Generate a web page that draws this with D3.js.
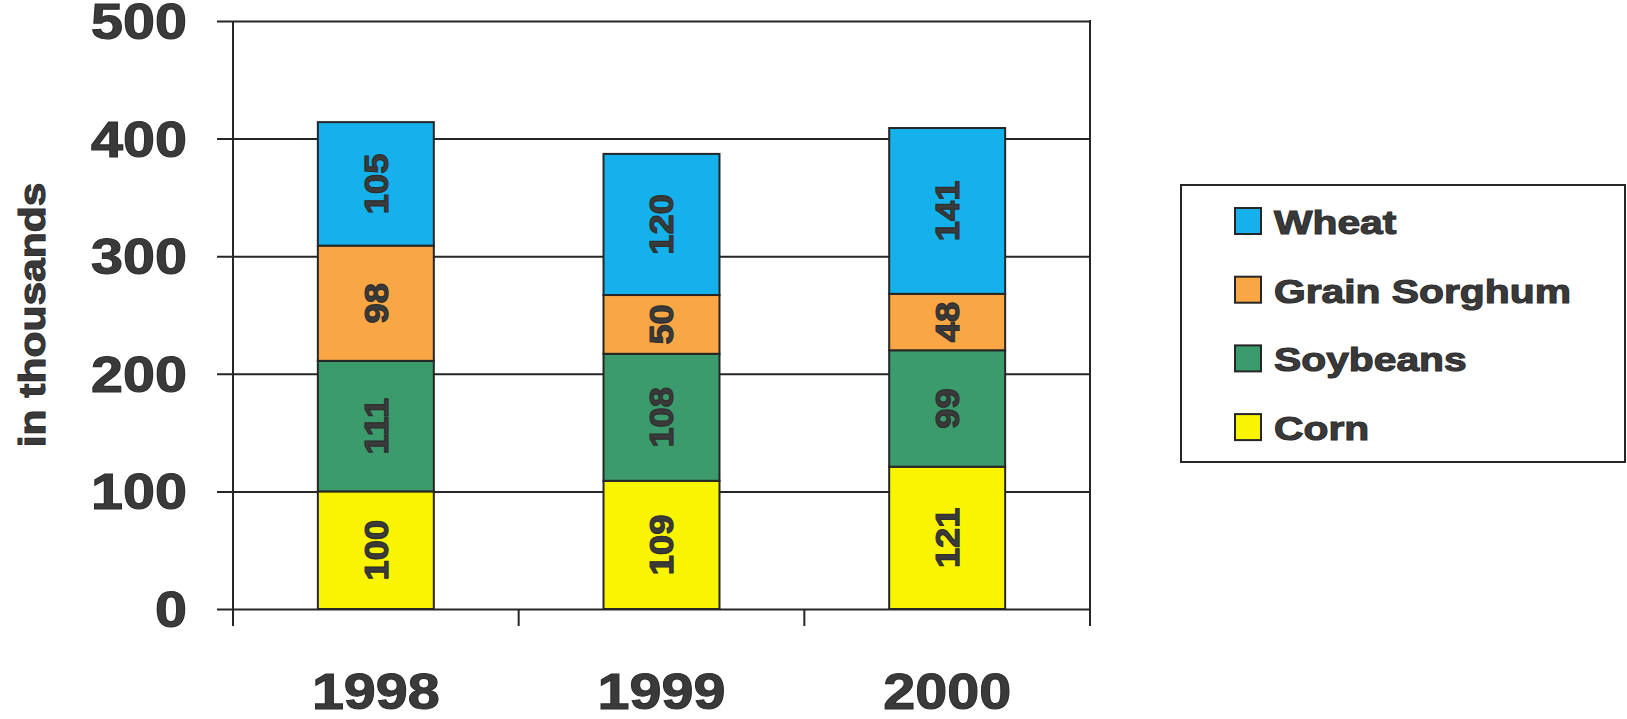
<!DOCTYPE html>
<html>
<head>
<meta charset="utf-8">
<script src="https://cdn.jsdelivr.net/npm/d3@7"></script>
<style>
  html, body { margin: 0; padding: 0; background: #ffffff; }
  svg { display: block; }
  text { font-family: "Liberation Sans", Arial, sans-serif; font-weight: bold; fill: #3a3a3a; stroke: #2e2e2e; stroke-width: 1.1px; }
</style>
</head>
<body>
<svg id="chart" width="1627" height="719"></svg>
<script>
// Crop acreage by year, in thousands
const years = ["1998", "1999", "2000"];
const series = ["Corn", "Soybeans", "Grain Sorghum", "Wheat"];
const corn = [100, 109, 121];
const soybeans = [111, 108, 99];
const sorghum = [98, 50, 48];
const wheat = [105, 120, 141];
const yTicks = [0, 100, 200, 300, 400, 500];
const legendOrder = ["Wheat", "Grain Sorghum", "Soybeans", "Corn"];
const colors = {
  "Corn": "#f9f500",
  "Soybeans": "#3c9b6d",
  "Grain Sorghum": "#f8a744",
  "Wheat": "#14b1ec"
};

const rows = years.map((yr, i) => ({
  year: yr,
  "Corn": corn[i],
  "Soybeans": soybeans[i],
  "Grain Sorghum": sorghum[i],
  "Wheat": wheat[i]
}));

const svg = d3.select("#chart");

const plot = { left: 233, right: 1090, top: 21, bottom: 609 };

const y = d3.scaleLinear().domain([0, 500]).range([plot.bottom, plot.top]);

// category bands (tick marks sit on band edges)
const xCat = d3.scaleBand().domain(years).range([plot.left, plot.right]).padding(0);
// narrower band for the bars, centred in each category
const xBar = d3.scaleBand().domain(years).range([plot.left, plot.right])
  .paddingInner(0.594).paddingOuter(0.297);

const ink = "#262626";

// horizontal gridlines, extending left past the axis as tick marks
const grid = svg.append("g")
  .attr("transform", `translate(${plot.left - 16},0)`)
  .call(d3.axisRight(y).tickValues(yTicks).tickSize(plot.right - plot.left + 16).tickFormat(""));
grid.select(".domain").remove();
grid.selectAll(".tick line").attr("stroke", ink).attr("stroke-width", 2);

// left axis line and right border
svg.append("line")
  .attr("x1", plot.left).attr("x2", plot.left)
  .attr("y1", y(500)).attr("y2", plot.bottom + 17)
  .attr("stroke", ink).attr("stroke-width", 2);
svg.append("line")
  .attr("x1", plot.right).attr("x2", plot.right)
  .attr("y1", y(500) - 1).attr("y2", plot.bottom + 17)
  .attr("stroke", ink).attr("stroke-width", 2);

// category boundary ticks below the baseline
const edges = years.map(d => xCat(d)).concat([xCat(years[years.length - 1]) + xCat.bandwidth()]);
svg.append("g").selectAll("line").data(edges).join("line")
  .attr("x1", d => d).attr("x2", d => d)
  .attr("y1", plot.bottom).attr("y2", plot.bottom + 17)
  .attr("stroke", ink).attr("stroke-width", 2);

// y tick labels
svg.append("g").selectAll("g").data(yTicks).join("g")
  .attr("transform", d => `translate(187,${y(d)}) scale(1.15,1)`)
  .append("text")
  .attr("text-anchor", "end")
  .attr("dy", "0.36em")
  .style("font-size", "50px")
  .text(d => d);

// x category labels
svg.append("g").selectAll("g").data(years).join("g")
  .attr("transform", d => `translate(${xCat(d) + xCat.bandwidth() / 2},709) scale(1.15,1)`)
  .append("text")
  .attr("text-anchor", "middle")
  .style("font-size", "50px")
  .text(d => d);

// y axis title
svg.append("g")
  .attr("transform", `translate(45,${(plot.top + plot.bottom) / 2}) rotate(-90) scale(1.15,1)`)
  .append("text")
  .attr("text-anchor", "middle")
  .style("font-size", "37px")
  .text("in thousands");

// stacked bars
const stack = d3.stack().keys(series)(rows);

const layers = svg.append("g").selectAll("g").data(stack).join("g")
  .attr("fill", d => colors[d.key]);

layers.selectAll("rect").data(d => d).join("rect")
  .attr("x", d => xBar(d.data.year))
  .attr("width", xBar.bandwidth())
  .attr("y", d => y(d[1]))
  .attr("height", d => y(d[0]) - y(d[1]))
  .attr("stroke", ink)
  .attr("stroke-width", 2);

// value labels, rotated inside each segment
layers.selectAll("g.val").data(d => d.map(s => ({ s, key: d.key }))).join("g")
  .attr("class", "val")
  .attr("transform", d => {
    const cx = xBar(d.s.data.year) + xBar.bandwidth() / 2;
    const cy = y((d.s[0] + d.s[1]) / 2);
    return `translate(${cx},${cy}) rotate(-90) scale(1.1,1)`;
  })
  .append("text")
  .attr("text-anchor", "middle")
  .attr("dy", "0.36em")
  .style("font-size", "33px")
  .text(d => d.s.data[d.key]);

// legend
const legend = svg.append("g");
legend.append("rect")
  .attr("x", 1181).attr("y", 185)
  .attr("width", 444).attr("height", 277)
  .attr("fill", "#ffffff").attr("stroke", ink).attr("stroke-width", 2);

const items = legend.selectAll("g.item").data(legendOrder).join("g")
  .attr("class", "item")
  .attr("transform", (d, i) => `translate(1235,${221 + i * 68.7})`);

items.append("rect")
  .attr("x", 0).attr("y", -13)
  .attr("width", 26).attr("height", 26)
  .attr("fill", d => colors[d])
  .attr("stroke", ink).attr("stroke-width", 2);

items.append("g")
  .attr("transform", "translate(39,13) scale(1.2,1)")
  .append("text")
  .style("font-size", "34px")
  .text(d => d);
</script>
</body>
</html>
